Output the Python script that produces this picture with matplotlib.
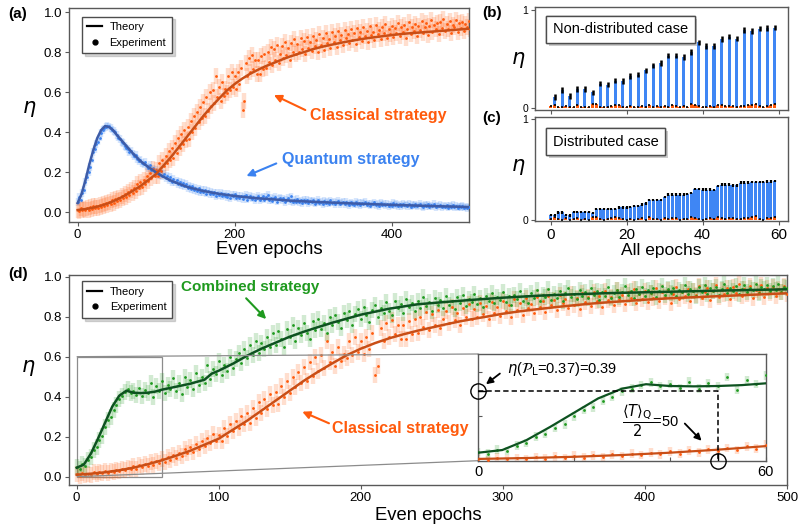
import numpy as np
import matplotlib.pyplot as plt
import matplotlib.patheffects as pe
from matplotlib.lines import Line2D
from mpl_toolkits.axes_grid1.inset_locator import mark_inset

plt.rcParams['font.family'] = ['Liberation Sans', 'DejaVu Sans']
plt.rcParams['mathtext.fontset'] = 'dejavusans'

ORANGE = '#ff5b0d'
ORANGE_LINE = '#c94e16'
BLUE = '#3b82f0'
BLUE_LINE = '#3d5ca8'
GREEN = '#1f9a1f'
GREEN_LINE = '#0d5220'
BAR_BLUE = '#3f86f4'

# ---------------- data ----------------
epochs = np.arange(0, 501, 2)   # even epochs

classical_exp = [
    0.012, 0.005, 0.018, 0.008, 0.014, 0.010, 0.021, 0.012, 0.025, 0.016,
    0.028, 0.018, 0.030, 0.022, 0.035, 0.027, 0.040, 0.031, 0.045, 0.036,
    0.052, 0.040, 0.058, 0.047, 0.063, 0.055, 0.072, 0.060, 0.080, 0.068,
    0.090, 0.075, 0.098, 0.085, 0.110, 0.095, 0.120, 0.105, 0.138, 0.118,
    0.150, 0.125, 0.162, 0.140, 0.178, 0.155, 0.195, 0.168, 0.215, 0.180,
    0.210, 0.178, 0.245, 0.205, 0.262, 0.228, 0.280, 0.245, 0.305, 0.262,
    0.320, 0.268, 0.345, 0.295, 0.372, 0.318, 0.390, 0.340, 0.412, 0.358,
    0.425, 0.365, 0.455, 0.398, 0.478, 0.420, 0.500, 0.448, 0.525, 0.470,
    0.548, 0.480, 0.575, 0.505, 0.600, 0.530, 0.610, 0.545, 0.680, 0.575,
    0.625, 0.555, 0.650, 0.580, 0.615, 0.595, 0.680, 0.610, 0.700, 0.625,
    0.680, 0.615, 0.700, 0.640, 0.720, 0.510, 0.555, 0.745, 0.680, 0.770,
    0.700, 0.785, 0.715, 0.760, 0.690, 0.760, 0.690, 0.780, 0.715, 0.790,
    0.720, 0.800, 0.750, 0.825, 0.735, 0.815, 0.760, 0.835, 0.745, 0.790,
    0.830, 0.770, 0.850, 0.785, 0.820, 0.760, 0.845, 0.800, 0.865, 0.790,
    0.840, 0.800, 0.870, 0.815, 0.855, 0.790, 0.875, 0.820, 0.850, 0.805,
    0.880, 0.830, 0.860, 0.800, 0.890, 0.835, 0.870, 0.810, 0.895, 0.845,
    0.865, 0.820, 0.900, 0.850, 0.880, 0.825, 0.905, 0.860, 0.885, 0.835,
    0.910, 0.870, 0.890, 0.845, 0.915, 0.860, 0.895, 0.840, 0.920, 0.875,
    0.900, 0.855, 0.925, 0.880, 0.905, 0.850, 0.930, 0.885, 0.900, 0.860,
    0.935, 0.890, 0.910, 0.865, 0.925, 0.895, 0.940, 0.870, 0.915, 0.890,
    0.930, 0.875, 0.920, 0.895, 0.945, 0.880, 0.925, 0.900, 0.935, 0.870,
    0.915, 0.950, 0.890, 0.925, 0.905, 0.940, 0.880, 0.930, 0.910, 0.955,
    0.895, 0.925, 0.945, 0.885, 0.930, 0.960, 0.900, 0.935, 0.915, 0.945,
    0.890, 0.950, 0.920, 0.965, 0.905, 0.940, 0.915, 0.955, 0.895, 0.935,
    0.925, 0.960, 0.900, 0.945, 0.920, 0.950, 0.905, 0.940, 0.925, 0.955,
    0.915,
]

quantum_exp = [
    0.050, 0.075, 0.062, 0.095, 0.110, 0.150, 0.175, 0.200, 0.225, 0.262,
    0.300, 0.315, 0.340, 0.352, 0.372, 0.395, 0.410, 0.418, 0.425, 0.432,
    0.428, 0.420, 0.412, 0.405, 0.398, 0.385, 0.372, 0.365, 0.350, 0.345,
    0.330, 0.322, 0.315, 0.300, 0.305, 0.290, 0.278, 0.285, 0.265, 0.255,
    0.262, 0.245, 0.238, 0.250, 0.228, 0.220, 0.235, 0.210, 0.218, 0.200,
    0.212, 0.195, 0.185, 0.205, 0.178, 0.190, 0.170, 0.182, 0.160, 0.175,
    0.150, 0.165, 0.148, 0.158, 0.140, 0.152, 0.135, 0.145, 0.128, 0.140,
    0.120, 0.132, 0.115, 0.128, 0.110, 0.122, 0.105, 0.118, 0.100, 0.112,
    0.098, 0.110, 0.092, 0.105, 0.090, 0.102, 0.088, 0.098, 0.080, 0.095,
    0.085, 0.095, 0.078, 0.092, 0.082, 0.075, 0.090, 0.070, 0.085, 0.078,
    0.088, 0.072, 0.082, 0.068, 0.080, 0.065, 0.078, 0.085, 0.062, 0.074,
    0.080, 0.066, 0.075, 0.060, 0.072, 0.082, 0.058, 0.070, 0.078, 0.062,
    0.075, 0.085, 0.060, 0.070, 0.056, 0.068, 0.075, 0.052, 0.065, 0.072,
    0.058, 0.068, 0.050, 0.062, 0.070, 0.055, 0.078, 0.048, 0.060, 0.052,
    0.065, 0.050, 0.058, 0.045, 0.062, 0.052, 0.060, 0.045, 0.055, 0.050,
    0.058, 0.042, 0.052, 0.060, 0.046, 0.050, 0.040, 0.055, 0.045, 0.052,
    0.042, 0.058, 0.046, 0.050, 0.038, 0.048, 0.055, 0.040, 0.046, 0.052,
    0.038, 0.050, 0.044, 0.035, 0.048, 0.042, 0.036, 0.050, 0.040, 0.045,
    0.034, 0.046, 0.040, 0.052, 0.036, 0.044, 0.032, 0.042, 0.038, 0.048,
    0.035, 0.040, 0.030, 0.045, 0.037, 0.042, 0.033, 0.040, 0.028, 0.038,
    0.032, 0.045, 0.035, 0.040, 0.030, 0.038, 0.028, 0.042, 0.034, 0.036,
    0.030, 0.040, 0.026, 0.035, 0.032, 0.038, 0.028, 0.034, 0.042, 0.030,
    0.025, 0.036, 0.030, 0.038, 0.027, 0.034, 0.028, 0.040, 0.025, 0.032,
    0.029, 0.036, 0.024, 0.031, 0.027, 0.033, 0.022, 0.030, 0.026, 0.035,
    0.024, 0.030, 0.021, 0.028, 0.025, 0.030, 0.022, 0.027, 0.020, 0.026,
    0.024,
]

combined_exp = [
    0.048, 0.040, 0.062, 0.055, 0.085, 0.100, 0.135, 0.150, 0.185, 0.205,
    0.250, 0.285, 0.300, 0.335, 0.360, 0.390, 0.405, 0.425, 0.440, 0.420,
    0.430, 0.410, 0.445, 0.405, 0.435, 0.420, 0.470, 0.400, 0.455, 0.430,
    0.480, 0.420, 0.460, 0.440, 0.495, 0.430, 0.470, 0.415, 0.500, 0.450,
    0.485, 0.440, 0.520, 0.460, 0.500, 0.470, 0.560, 0.490, 0.540, 0.515,
    0.580, 0.510, 0.560, 0.530, 0.600, 0.545, 0.590, 0.620, 0.570, 0.640,
    0.595, 0.660, 0.610, 0.680, 0.620, 0.670, 0.640, 0.700, 0.650, 0.720,
    0.660, 0.730, 0.690, 0.650, 0.740, 0.700, 0.760, 0.680, 0.745, 0.710,
    0.770, 0.720, 0.690, 0.780, 0.735, 0.790, 0.740, 0.770, 0.720, 0.800,
    0.760, 0.810, 0.775, 0.745, 0.820, 0.785, 0.830, 0.760, 0.815, 0.840,
    0.790, 0.850, 0.810, 0.775, 0.835, 0.860, 0.800, 0.845, 0.820, 0.875,
    0.830, 0.810, 0.880, 0.845, 0.865, 0.820, 0.890, 0.850, 0.870, 0.830,
    0.880, 0.845, 0.900, 0.855, 0.875, 0.830, 0.895, 0.860, 0.885, 0.845,
    0.905, 0.860, 0.880, 0.840, 0.900, 0.870, 0.910, 0.855, 0.890, 0.875,
    0.915, 0.865, 0.895, 0.850, 0.905, 0.880, 0.920, 0.870, 0.900, 0.885,
    0.925, 0.875, 0.905, 0.860, 0.910, 0.890, 0.930, 0.880, 0.905, 0.870,
    0.920, 0.895, 0.935, 0.880, 0.910, 0.900, 0.940, 0.885, 0.915, 0.895,
    0.930, 0.880, 0.920, 0.945, 0.900, 0.915, 0.890, 0.935, 0.905, 0.925,
    0.895, 0.945, 0.910, 0.930, 0.885, 0.925, 0.905, 0.950, 0.895, 0.920,
    0.935, 0.900, 0.925, 0.955, 0.910, 0.930, 0.895, 0.940, 0.915, 0.950,
    0.905, 0.935, 0.920, 0.945, 0.900, 0.930, 0.955, 0.910, 0.940, 0.920,
    0.945, 0.905, 0.935, 0.925, 0.960, 0.915, 0.940, 0.930, 0.905, 0.950,
    0.925, 0.960, 0.915, 0.945, 0.930, 0.950, 0.910, 0.940, 0.965, 0.920,
    0.945, 0.930, 0.955, 0.915, 0.940, 0.960, 0.925, 0.945, 0.935, 0.965,
    0.920, 0.950, 0.940, 0.960, 0.930, 0.955, 0.935, 0.965, 0.925, 0.950,
    0.945,
]

classical_err = 0.04
quantum_err = 0.018
combined_err = 0.04

classical_tx = np.arange(0, 501, 10)
classical_ty = [0.010, 0.015, 0.022, 0.032, 0.045, 0.062, 0.082, 0.105, 0.130, 0.160,
                0.190, 0.235, 0.280, 0.330, 0.380, 0.430, 0.480, 0.525, 0.567, 0.607,
                0.640, 0.668, 0.692, 0.712, 0.730, 0.746, 0.762, 0.777, 0.790, 0.802,
                0.815, 0.825, 0.834, 0.842, 0.850, 0.857, 0.864, 0.870, 0.875, 0.880,
                0.885, 0.889, 0.893, 0.896, 0.899, 0.902, 0.905, 0.908, 0.911, 0.914,
                0.917]

quantum_tx = [0, 5, 10, 15, 20, 25, 30, 35, 40, 45, 50, 60, 70, 80, 90, 100, 110, 120,
              140, 160, 180, 200, 225, 250, 275, 300, 350, 400, 450, 500]
quantum_ty = [0.045, 0.09, 0.16, 0.24, 0.31, 0.37, 0.41, 0.43, 0.425, 0.41, 0.385, 0.34,
              0.295, 0.255, 0.225, 0.198, 0.175, 0.155, 0.125, 0.105, 0.091, 0.080,
              0.070, 0.063, 0.056, 0.051, 0.043, 0.036, 0.030, 0.025]

combined_tx = [0, 5, 10, 15, 20, 25, 30, 35, 40, 45, 50, 55, 60, 70, 80, 90, 95, 100,
               110, 120, 130, 140, 150, 160, 170, 180, 190, 200, 220, 240, 260, 280,
               300, 325, 350, 375, 400, 450, 500]
combined_ty = [0.045, 0.06, 0.115, 0.19, 0.27, 0.35, 0.405, 0.43, 0.42, 0.418, 0.42,
               0.425, 0.435, 0.45, 0.465, 0.485, 0.515, 0.53, 0.565, 0.605, 0.64, 0.67,
               0.70, 0.725, 0.748, 0.77, 0.79, 0.81, 0.84, 0.862, 0.874, 0.885, 0.895,
               0.905, 0.912, 0.918, 0.922, 0.93, 0.937]

# bar panels (all epochs 0..59)
all_epochs = np.arange(60)
odd_epochs = np.arange(1, 60, 2)
nondist_quantum = [0.11, 0.18, 0.12, 0.19, 0.19, 0.155, 0.245, 0.235, 0.275, 0.27,
                   0.32, 0.335, 0.38, 0.43, 0.455, 0.53, 0.53, 0.515, 0.565, 0.665,
                   0.63, 0.63, 0.70, 0.725, 0.705, 0.79, 0.78, 0.805, 0.81, 0.815]
dist_quantum = [0.054, 0.054, 0.079, 0.079, 0.054, 0.050, 0.085, 0.085, 0.085, 0.085,
                0.085, 0.075, 0.112, 0.112, 0.112, 0.112, 0.115, 0.115, 0.130, 0.130,
                0.130, 0.132, 0.145, 0.145, 0.158, 0.170, 0.200, 0.200, 0.205, 0.205,
                0.230, 0.255, 0.255, 0.255, 0.255, 0.255, 0.260, 0.270, 0.310, 0.310,
                0.305, 0.305, 0.305, 0.300, 0.340, 0.355, 0.355, 0.355, 0.347, 0.347,
                0.375, 0.375, 0.375, 0.378, 0.380, 0.380, 0.382, 0.385, 0.385, 0.388]
bar_classical = [0.015, 0.03, 0.01, 0.005, 0.02, 0.005, 0.01, 0.025, 0.005, 0.01,
                 0.005, 0.035, 0.035, 0.01, 0.005, 0.01, 0.02, 0.03, 0.025, 0.01,
                 0.005, 0.015, 0.005, 0.01, 0.02, 0.005, 0.03, 0.01, 0.015, 0.005,
                 0.02, 0.01, 0.025, 0.02, 0.005, 0.015, 0.01, 0.035, 0.025, 0.015,
                 0.005, 0.01, 0.02, 0.01, 0.03, 0.025, 0.015, 0.02, 0.02, 0.01,
                 0.015, 0.02, 0.025, 0.03, 0.04, 0.015, 0.005, 0.02, 0.025, 0.035]
nondist_err = 0.028
dist_err = 0.012
bar_classical_err = 0.01

# -------------- helpers --------------
SPINE = '0.35'


def style(ax, labelsize=9.5):
    for s in ax.spines.values():
        s.set_color(SPINE)
        s.set_linewidth(1.0)
    ax.tick_params(labelsize=labelsize, length=3, color=SPINE, width=0.8, pad=2)


def experiment(ax, x, y, err, col):
    y = np.asarray(y)
    ax.vlines(x, y - err, y + err, color=col, lw=3.2, alpha=0.2, zorder=2)
    ax.plot(x, y, 'o', color=col, ms=2.0, mew=0, zorder=3)


def theory_legend(ax, anchor):
    handles = [Line2D([], [], color='k', lw=1.6),
               Line2D([], [], marker='o', ls='none', color='k', ms=3.5)]
    leg = ax.legend(handles, ['Theory', 'Experiment'], loc='upper left',
                    bbox_to_anchor=anchor, borderaxespad=0, fontsize=8,
                    fancybox=False, edgecolor='0.3', handlelength=1.3,
                    handletextpad=0.7, borderpad=0.5, labelspacing=0.5,
                    shadow={'color': '0.6', 'alpha': 0.4})
    leg.get_frame().set_linewidth(1.0)


def case_box(ax, text, y):
    t = ax.text(0.07, y, text, transform=ax.transAxes, fontsize=10.5,
                ha='left', va='center',
                bbox=dict(boxstyle='square,pad=0.45', fc='white', ec='0.3', lw=1))
    t.get_bbox_patch().set_path_effects(
        [pe.withSimplePatchShadow(offset=(2, -2), shadow_rgbFace='0.6', alpha=0.5),
         pe.Normal()])


def xlabel(ax, text, y, size=13.3):
    ax.set_xlabel(text, fontsize=size, va='center')
    ax.xaxis.set_label_coords(0.5, y)


def eta_label(ax, x, y):
    ax.set_ylabel(r'$\eta$', fontsize=15, rotation=0, va='center', ha='center')
    ax.yaxis.set_label_coords(x, y)


fig = plt.figure(figsize=(8, 5.27), dpi=100)

# -------------- (a) --------------
ax_a = fig.add_axes([0.08625, 0.5787, 0.5, 0.406])
experiment(ax_a, epochs, quantum_exp, quantum_err, BLUE)
experiment(ax_a, epochs, classical_exp, classical_err, ORANGE)
ax_a.plot(quantum_tx, quantum_ty, color=BLUE_LINE, lw=1.8, zorder=4)
ax_a.plot(classical_tx, classical_ty, color=ORANGE_LINE, lw=1.8, zorder=4)
ax_a.set_xlim(-11, 498.5)
ax_a.set_ylim(-0.05, 1.02)
ax_a.set_xticks([0, 200, 400])
ax_a.set_yticks(np.arange(0, 1.01, 0.2))
ax_a.yaxis.set_major_formatter(plt.FormatStrFormatter('%.1f'))
style(ax_a)
xlabel(ax_a, 'Even epochs', -0.13)
eta_label(ax_a, -0.1, 0.53)
theory_legend(ax_a, (0.032, 0.96))

ax_a.text(383, 0.485, 'Classical strategy', color=ORANGE, fontsize=11.5,
          fontweight='bold', ha='center', va='center')
ax_a.annotate('', xy=(250, 0.585), xytext=(290, 0.51),
              arrowprops=dict(arrowstyle='-|>', color=ORANGE, lw=1.5, mutation_scale=11,
                              shrinkA=0, shrinkB=0))
ax_a.text(348, 0.263, 'Quantum strategy', color=BLUE, fontsize=11.5,
          fontweight='bold', ha='center', va='center')
ax_a.annotate('', xy=(215, 0.18), xytext=(253, 0.243),
              arrowprops=dict(arrowstyle='-|>', color=BLUE, lw=1.5, mutation_scale=11,
                              shrinkA=0, shrinkB=0))

# -------------- (b) --------------
ax_b = fig.add_axes([0.669, 0.7913, 0.316, 0.196])
ax_b.bar(odd_epochs, nondist_quantum, width=0.8, color=BAR_BLUE, zorder=2)
ax_b.errorbar(odd_epochs, nondist_quantum, yerr=nondist_err, fmt='none',
              ecolor='k', elinewidth=1.8, zorder=3)
ax_b.bar(all_epochs, bar_classical, width=0.8, color=ORANGE, zorder=4)
ax_b.errorbar(all_epochs, bar_classical, yerr=bar_classical_err, fmt='none',
              ecolor='k', elinewidth=1.2, zorder=5)
ax_b.set_xlim(-4.1, 62.5)
ax_b.set_ylim(-0.025, 1.03)
ax_b.set_yticks([0, 1])
ax_b.set_xticks([0, 20, 40, 60])
ax_b.set_xticklabels([])
style(ax_b)
ax_b.tick_params(axis='y', labelsize=7.5)
eta_label(ax_b, -0.067, 0.48)
case_box(ax_b, 'Non-distributed case', 0.78)

# -------------- (c) --------------
ax_c = fig.add_axes([0.669, 0.5797, 0.316, 0.1977])
ax_c.bar(all_epochs, dist_quantum, width=0.8, color=BAR_BLUE, zorder=2)
ax_c.errorbar(all_epochs, dist_quantum, yerr=dist_err, fmt='none',
              ecolor='k', elinewidth=1.6, zorder=3)
ax_c.bar(all_epochs, bar_classical, width=0.8, color=ORANGE, zorder=4)
ax_c.errorbar(all_epochs, bar_classical, yerr=bar_classical_err, fmt='none',
              ecolor='k', elinewidth=1.2, zorder=5)
ax_c.set_xlim(-4.1, 62.5)
ax_c.set_ylim(-0.01, 1.02)
ax_c.set_yticks([0, 1])
ax_c.set_xticks([0, 20, 40, 60])
style(ax_c)
ax_c.tick_params(axis='y', labelsize=7.5)
ax_c.tick_params(axis='x', labelsize=11, pad=1.5)
xlabel(ax_c, 'All epochs', -0.275, size=12.5)
eta_label(ax_c, -0.067, 0.52)
case_box(ax_c, 'Distributed case', 0.766)

# -------------- (d) --------------
ax_d = fig.add_axes([0.08625, 0.0797, 0.8975, 0.3985])
experiment(ax_d, epochs, classical_exp, classical_err, ORANGE)
experiment(ax_d, epochs, combined_exp, combined_err, GREEN)
ax_d.plot(classical_tx, classical_ty, color=ORANGE_LINE, lw=1.8, zorder=4)
ax_d.plot(combined_tx, combined_ty, color=GREEN_LINE, lw=1.8, zorder=4)
ax_d.set_xlim(-5.4, 500)
ax_d.set_ylim(-0.0415, 1.0085)
ax_d.set_xticks(np.arange(0, 501, 100))
ax_d.set_yticks(np.arange(0, 1.01, 0.2))
ax_d.yaxis.set_major_formatter(plt.FormatStrFormatter('%.1f'))
style(ax_d)
xlabel(ax_d, 'Even epochs', -0.143)
eta_label(ax_d, -0.057, 0.557)
theory_legend(ax_d, (0.018, 0.971))

ax_d.text(122, 0.95, 'Combined strategy', color=GREEN, fontsize=11,
          fontweight='bold', ha='center', va='center')
ax_d.annotate('', xy=(133.4, 0.788), xytext=(119.3, 0.892),
              arrowprops=dict(arrowstyle='-|>', color=GREEN, lw=1.5, mutation_scale=11,
                              shrinkA=0, shrinkB=0))
ax_d.text(227.6, 0.242, 'Classical strategy', color=ORANGE, fontsize=11.5,
          fontweight='bold', ha='center', va='center', zorder=6)
ax_d.annotate('', xy=(158.8, 0.325), xytext=(177.6, 0.267),
              arrowprops=dict(arrowstyle='-|>', color=ORANGE, lw=1.5, mutation_scale=11,
                              shrinkA=0, shrinkB=0))

# inset
axins = fig.add_axes([0.5979, 0.1258, 0.3593, 0.2025])
near = epochs <= 60
experiment(axins, epochs[near], np.asarray(classical_exp)[near], classical_err * 0.6, ORANGE)
experiment(axins, epochs[near], np.asarray(combined_exp)[near], combined_err * 0.6, GREEN)
axins.plot(classical_tx, classical_ty, color=ORANGE_LINE, lw=1.6, zorder=4)
axins.plot(combined_tx, combined_ty, color=GREEN_LINE, lw=1.6, zorder=4)
axins.set_xlim(0, 60)
axins.set_ylim(0, 0.6)
axins.set_xticks([0, 20, 40, 60])
axins.set_xticklabels(['0', '', '', '60'])
axins.set_yticks([0.25, 0.5])
axins.set_yticklabels([])
style(axins)
axins.tick_params(direction='in', labelsize=10.5, pad=3)
mark_inset(ax_d, axins, loc1=2, loc2=3, fc='none', ec='0.55', lw=0.9)

axins.plot([0, 50, 50], [0.39, 0.39, 0], 'k--', lw=1.1, dashes=(3.5, 2), zorder=5)
axins.plot([0], [0.39], 'o', ms=11, mfc='none', mec='k', mew=1, clip_on=False, zorder=6)
axins.plot([50], [0], 'o', ms=11, mfc='none', mec='k', mew=1, clip_on=False, zorder=6)
axins.plot([0, 1.5], [0.39, 0.39], 'k-', lw=1, zorder=6)
axins.plot([50, 50], [0, 0.035], 'k-', lw=1, zorder=6)
axins.text(5.9, 0.516, r'$\eta$($\mathcal{P}_{\rm L}$=0.37)=0.39', fontsize=10.5,
           ha='left', va='center')
axins.annotate('', xy=(1.6, 0.43), xytext=(4.5, 0.49),
               arrowprops=dict(arrowstyle='-|>', color='k', lw=1.3, mutation_scale=10,
                               shrinkA=0, shrinkB=0))
axins.text(36, 0.225, r'$\dfrac{\langle T\rangle_{\rm Q}}{2}$=50', fontsize=10.5,
           ha='center', va='center')
axins.annotate('', xy=(46.6, 0.112), xytext=(43.1, 0.209),
               arrowprops=dict(arrowstyle='-|>', color='k', lw=1.3, mutation_scale=10,
                               shrinkA=0, shrinkB=0))

# panel letters
for lab, x, y in [('(a)', 8, 14), ('(b)', 482, 13), ('(c)', 482, 118), ('(d)', 8, 274)]:
    fig.text(x / 800, 1 - y / 527, lab, fontsize=11, fontweight='bold', ha='left', va='center')

fig.savefig('out.png', dpi=100)
